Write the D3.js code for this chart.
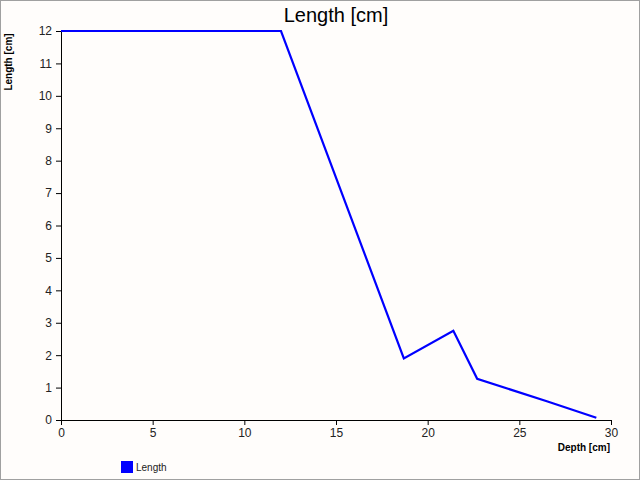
<!DOCTYPE html>
<html>
<head>
<meta charset="utf-8">
<script src="https://cdn.jsdelivr.net/npm/d3@7"></script>
<style>
  body { margin: 0; background: #fff; }
  svg { display: block; font-family: "Liberation Sans", Arial, sans-serif; }
</style>
</head>
<body>
<svg id="chart" width="640" height="480"></svg>
<script>
// data
var depth  = [0, 12, 18.7, 21.4, 22.7, 26.5, 29.2];
var length = [12, 12, 1.9, 2.75, 1.27, 0.58, 0.07];
var xTicks = [0, 5, 10, 15, 20, 25, 30];
var yTicks = [0, 1, 2, 3, 4, 5, 6, 7, 8, 9, 10, 11, 12];

var svg = d3.select("#chart"),
    width = 640,
    height = 480,
    margin = {top: 31, right: 29, bottom: 60, left: 61};

svg.append("rect")
    .attr("x", 0.5).attr("y", 0.5)
    .attr("width", width - 1).attr("height", height - 1)
    .attr("fill", "#fffdfb")
    .attr("stroke", "#a0a0a0");

var x = d3.scaleLinear().domain([0, 30]).range([margin.left, width - margin.right]);
var y = d3.scaleLinear().domain([0, 12]).range([height - margin.bottom, margin.top]);

var xAxis = svg.append("g")
    .attr("transform", "translate(0," + y(0) + ")")
    .call(d3.axisBottom(x).tickValues(xTicks).tickSize(5).tickPadding(3).tickSizeOuter(0));

var yAxis = svg.append("g")
    .attr("transform", "translate(" + x(0) + ",0)")
    .call(d3.axisLeft(y).tickValues(yTicks).tickSize(5).tickPadding(4).tickSizeOuter(0));

[xAxis, yAxis].forEach(function (a) {
  a.selectAll("path, line").attr("stroke", "#000");
  a.selectAll("text").attr("fill", "#222").style("font-size", "12px")
      .style("font-family", "'Liberation Sans', Arial, sans-serif");
});

var line = d3.line()
    .x(function (d, i) { return x(depth[i]); })
    .y(function (d) { return y(d); });

svg.append("path")
    .datum(length)
    .attr("fill", "none")
    .attr("stroke", "#0000ff")
    .attr("stroke-width", 2.2)
    .attr("stroke-linejoin", "miter")
    .attr("d", line);

svg.append("text")
    .attr("x", 336).attr("y", 22)
    .attr("text-anchor", "middle")
    .style("font-size", "20px")
    .attr("fill", "#000")
    .text("Length [cm]");

svg.append("text")
    .attr("transform", "translate(12,62) rotate(-90)")
    .attr("text-anchor", "middle")
    .style("font-size", "10px")
    .style("font-weight", "bold")
    .attr("fill", "#000")
    .text("Length [cm]");

svg.append("text")
    .attr("x", 610).attr("y", 451)
    .attr("text-anchor", "end")
    .style("font-size", "10px")
    .style("font-weight", "bold")
    .attr("fill", "#000")
    .text("Depth [cm]");

var legend = svg.append("g").attr("transform", "translate(121,461)");
legend.append("rect")
    .attr("width", 12).attr("height", 12)
    .attr("fill", "#0000ff");
legend.append("text")
    .attr("x", 15).attr("y", 10)
    .style("font-size", "10px")
    .attr("fill", "#222")
    .text("Length");
</script>
</body>
</html>
